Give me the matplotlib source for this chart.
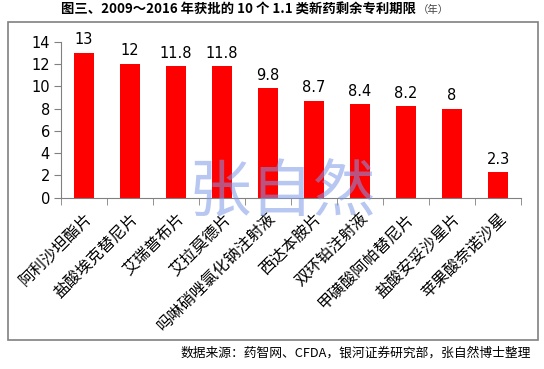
#图三：2009~2016年获批的10个1.1类新药剩余专利期限
import numpy as np
import matplotlib.pyplot as plt
from matplotlib.patches import Rectangle

plt.rcParams['font.family'] = ['Noto Sans CJK SC', 'DejaVu Sans']

#数据
drugs = ["阿利沙坦酯片", "盐酸埃克替尼片", "艾瑞普布片", "艾拉莫德片",
         "吗啉硝唑氯化钠注射液", "西达本胺片", "双环铂注射液",
         "甲磺酸阿帕替尼片", "盐酸安妥沙星片", "苹果酸奈诺沙星"]
years = [13, 12, 11.8, 11.8, 9.8, 8.7, 8.4, 8.2, 8, 2.3]
value_labels = ["13", "12", "11.8", "11.8", "9.8", "8.7", "8.4", "8.2", "8", "2.3"]
y_ticks = [0, 2, 4, 6, 8, 10, 12, 14]

fig = plt.figure(figsize=(5.44, 3.69), dpi=100)
ax = fig.add_axes([61 / 544, 1 - 197.7 / 369, 460 / 544, 156 / 369])

x = np.arange(len(drugs))
bars = ax.bar(x, years, width=0.435, color='#ff0000', zorder=2)

#数值标签
for xi, v, lab in zip(x, years, value_labels):
    ax.annotate(lab, (xi, v), xytext=(0, 4), textcoords='offset points',
                ha='center', va='bottom', fontsize=10.5, family='DejaVu Sans',
                annotation_clip=False)

ax.set_xlim(-0.5, len(drugs) - 0.5)
ax.set_ylim(0, 14)
ax.set_yticks(y_ticks)
ax.set_yticklabels([str(t) for t in y_ticks], family='DejaVu Sans', fontsize=10.5)

#刻度在类别之间
ax.set_xticks(x)
ax.set_xticklabels(drugs, rotation=45, ha='right', rotation_mode='anchor', fontsize=11.5)
ax.set_xticks(np.arange(-0.5, len(drugs)), minor=True)
ax.tick_params(axis='x', which='major', length=0, pad=9)
ax.tick_params(axis='x', which='minor', length=5, color='#808080', direction='out')
ax.tick_params(axis='y', length=5, color='#808080', pad=3)

for s in ['top', 'right']:
    ax.spines[s].set_visible(False)
for s in ['left', 'bottom']:
    ax.spines[s].set_color('#808080')

#水印
fig.text(282 / 544, 1 - 193 / 369, "张自然", fontsize=45, color='#7f9ae8', alpha=0.55,
         ha='center', va='center', fontweight='light', zorder=10)

#外框
fig.patches.append(Rectangle((8 / 544, 1 - 340 / 369), 530 / 544, 318 / 369,
                             transform=fig.transFigure, fill=False,
                             edgecolor='#808080', linewidth=1.2))

#标题
fig.text(61 / 544, 1 - 10 / 369, "图三、2009～2016 年获批的 10 个 1.1 类新药剩余专利期限",
         fontsize=9.6, fontweight='bold', ha='left', va='center')
fig.text(418 / 544, 1 - 10 / 369, "（年）", fontsize=7.5, color='#444444', ha='left', va='center')

#数据来源
fig.text(531 / 544, 1 - 353 / 369, "数据来源：药智网、CFDA，银河证券研究部，张自然博士整理",
         fontsize=9.2, ha='right', va='center')

fig.savefig("out.png", dpi=100)
